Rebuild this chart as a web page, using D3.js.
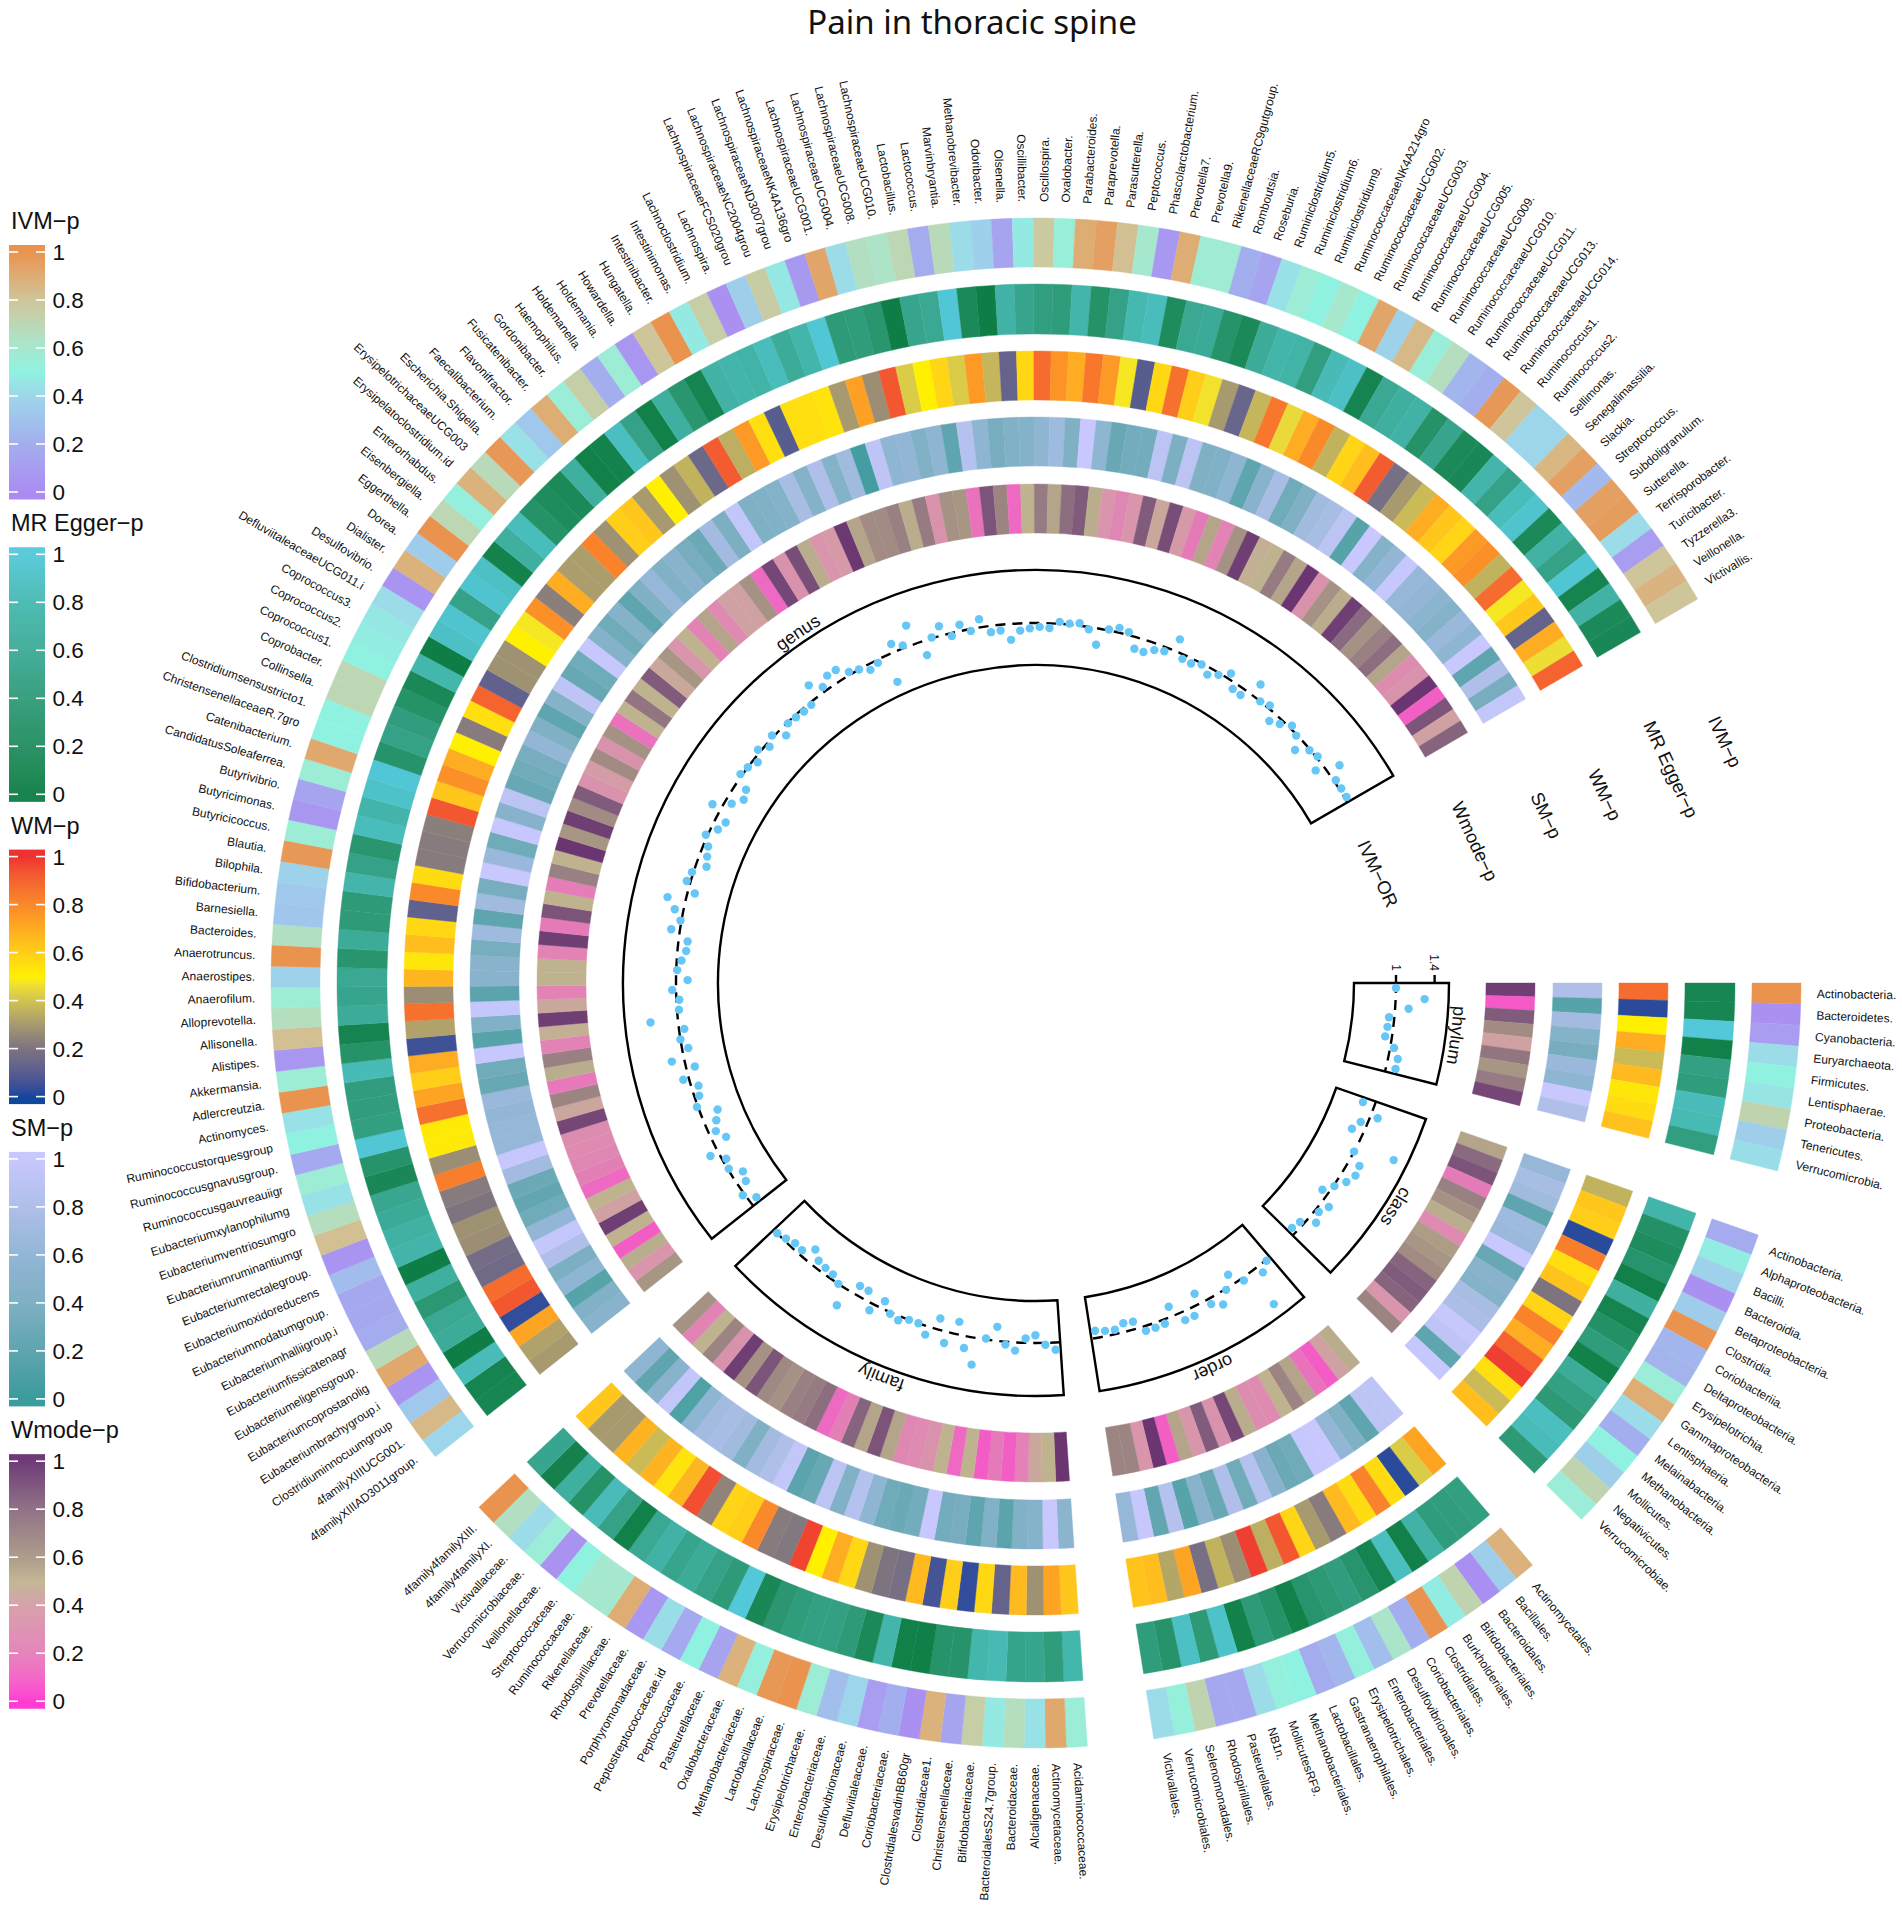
<!DOCTYPE html>
<html>
<head>
<meta charset="utf-8">
<title>Pain in thoracic spine</title>
<script src="https://cdn.jsdelivr.net/npm/d3@7"></script>
<style>
  body { margin: 0; background: #fff; }
  text { font-family: "Liberation Sans", Arial, sans-serif; fill: #111; }
</style>
</head>
<body>
<svg id="chart" width="1902" height="1906"></svg>
<script>
const phylumLabels = ['Actinobacteria.','Bacteroidetes.','Cyanobacteria.','Euryarchaeota.','Firmicutes.','Lentisphaerae.','Proteobacteria.','Tenericutes.','Verrucomicrobia.'];
const classLabels = ['Actinobacteria.','Alphaproteobacteria.','Bacilli.','Bacteroidia.','Betaproteobacteria.','Clostridia.','Coriobacteriia.','Deltaproteobacteria.','Erysipelotrichia.','Gammaproteobacteria.','Lentisphaeria.','Melainabacteria.','Methanobacteria.','Mollicutes.','Negativicutes.','Verrucomicrobiae.'];
const orderLabels = ['Actinomycetales.','Bacillales.','Bacteroidales.','Bifidobacteriales.','Burkholderiales.','Clostridiales.','Coriobacteriales.','Desulfovibrionales.','Enterobacteriales.','Erysipelotrichales.','Gastranaerophilales.','Lactobacillales.','Methanobacteriales.','MollicutesRF9.','NB1n.','Pasteurellales.','Rhodospirillales.','Selenomonadales.','Verrucomicrobiales.','Victivallales.'];
const familyLabels = ['Acidaminococcaceae.','Actinomycetaceae.','Alcaligenaceae.','Bacteroidaceae.','BacteroidalesS24.7group.','Bifidobacteriaceae.','Christensenellaceae.','Clostridiaceae1.','ClostridialesvadinBB60gr','Coriobacteriaceae.','Defluviitaleaceae.','Desulfovibrionaceae.','Enterobacteriaceae.','Erysipelotrichaceae.','Lachnospiraceae.','Lactobacillaceae.','Methanobacteriaceae.','Oxalobacteraceae.','Pasteurellaceae.','Peptococcaceae.','Peptostreptococcaceae.id','Porphyromonadaceae.','Prevotellaceae.','Rhodospirillaceae.','Rikenellaceae.','Ruminococcaceae.','Streptococcaceae.','Veillonellaceae.','Verrucomicrobiaceae.','Victivallaceae.','4family4familyXI.','4family4familyXIII.'];
const genusLabels = ['4familyXIIIAD3011group.','4familyXIIIUCG001.','Clostridiuminnocuumgroup','Eubacteriumbrachygroup.i','Eubacteriumcoprostanolig','Eubacteriumeligensgroup.','Eubacteriumfissicatenagr','Eubacteriumhalliigroup.i','Eubacteriumnodatumgroup.','Eubacteriumoxidoreducens','Eubacteriumrectalegroup.','Eubacteriumruminantiumgr','Eubacteriumventriosumgro','Eubacteriumxylanophilumg','Ruminococcusgauvreauiigr','Ruminococcusgnavusgroup.','Ruminococcustorquesgroup','Actinomyces.','Adlercreutzia.','Akkermansia.','Alistipes.','Allisonella.','Alloprevotella.','Anaerofilum.','Anaerostipes.','Anaerotruncus.','Bacteroides.','Barnesiella.','Bifidobacterium.','Bilophila.','Blautia.','Butyricicoccus.','Butyricimonas.','Butyrivibrio.','CandidatusSoleaferrea.','Catenibacterium.','ChristensenellaceaeR.7gro','Clostridiumsensustricto1.','Collinsella.','Coprobacter.','Coprococcus1.','Coprococcus2.','Coprococcus3.','DefluviitaleaceaeUCG011.i','Desulfovibrio.','Dialister.','Dorea.','Eggerthella.','Eisenbergiella.','Enterorhabdus.','Erysipelatoclostridium.id','ErysipelotrichaceaeUCG003','Escherichia.Shigella.','Faecalibacterium.','Flavonifractor.','Fusicatenibacter.','Gordonibacter.','Haemophilus.','Holdemanella.','Holdemania.','Howardella.','Hungatella.','Intestinibacter.','Intestinimonas.','Lachnoclostridium.','Lachnospira.','LachnospiraceaeFCS020grou','LachnospiraceaeNC2004grou','LachnospiraceaeND3007grou','LachnospiraceaeNK4A136gro','LachnospiraceaeUCG001.','LachnospiraceaeUCG004.','LachnospiraceaeUCG008.','LachnospiraceaeUCG010.','Lactobacillus.','Lactococcus.','Marvinbryantia.','Methanobrevibacter.','Odoribacter.','Olsenella.','Oscillibacter.','Oscillospira.','Oxalobacter.','Parabacteroides.','Paraprevotella.','Parasutterella.','Peptococcus.','Phascolarctobacterium.','Prevotella7.','Prevotella9.','RikenellaceaeRC9gutgroup.','Romboutsia.','Roseburia.','Ruminiclostridium5.','Ruminiclostridium6.','Ruminiclostridium9.','RuminococcaceaeNK4A214gro','RuminococcaceaeUCG002.','RuminococcaceaeUCG003.','RuminococcaceaeUCG004.','RuminococcaceaeUCG005.','RuminococcaceaeUCG009.','RuminococcaceaeUCG010.','RuminococcaceaeUCG011.','RuminococcaceaeUCG013.','RuminococcaceaeUCG014.','Ruminococcus1.','Ruminococcus2.','Sellimonas.','Senegalimassilia.','Slackia.','Streptococcus.','Subdoligranulum.','Sutterella.','Terrisporobacter.','Turicibacter.','Tyzzerella3.','Veillonella.','Victivallis.'];

// odds ratios
const orPhylum = [1,1.3,1.14,.945,.94,.93,1.04,1.1,1.1];
const orClass = [.875,1.077,.93,.875,1.405,1,1.12,1.135,1.09,1.01,.93,1.09,1.04,1.09,.96,.94];
const orOrder = [1.01,1.08,1.41,1.03,.89,1.01,1.125,1.06,.885,1.09,1.09,.895,1.045,1.05,1.05,.92,.91,.955,.945,.925];
const orFamily = [1.075,1.02,.92,.955,1.085,1.03,.855,.99,1.28,1.125,.87,1.12,.885,1.09,1,1,1.045,1.015,.92,1.075,.9,.9,1.195,1,.95,.94,.925,.855,.95,.945,.975,1];
const orGenus = [.92,1.02,.91,.88,.99,.96,1.09,.855,.925,.875,.82,1.01,.95,.925,1.06,.91,1.13,.935,1,.945,1.285,.98,.97,1.04,.88,.99,.95,.91,.905,1.09,1.01,1.09,1.19,.925,1.04,1.015,.89,.92,.95,1.02,.93,.89,1.1,.93,.845,.88,1.02,1,.95,1.03,.96,1.02,.915,.99,.98,.97,.975,1.15,1.05,1.12,1.12,1.03,1,.94,.97,.705,1.09,1.03,1.21,.85,1.01,1.1,.97,1.065,.98,1.085,.935,.94,.835,.925,.945,.96,.95,1.02,1.01,1.025,.975,.83,1.01,1.05,1.03,.88,.875,.93,.955,1.13,.955,.95,.99,.925,.98,1.06,.935,.93,1.14,1,1.03,.905,.955,1.03,.99,.88,.99,1.015,.91,1.14,1.02,1.02,1.02];

// p values per track and taxonomic level
const wmodePhylum = [.95,.08,.85,.65,.42,.75,.6,.72,.92];
const smPhylum = [.8,.15,.72,.45,.35,.65,.55,1,.8];
const wmPhylum = [.88,.02,.5,.7,.38,.66,.53,.56,.64];
const eggerPhylum = [.12,.12,1,.05,.48,.42,.85,.82,.45];
const ivmPhylum = [1,.03,.1,.42,.5,.45,.72,.36,.43];

const wmodeClass = [.55,.8,.88,.19,.7,.62,.52,.28,.58,.6,.65,.82,.85,.82,.35,.68];
const smClass = [.62,.75,.7,.2,.68,.66,1,.25,.5,.45,.75,.78,.98,.92,.2,.98];
const wmClass = [.36,.62,.6,.02,.83,.55,.63,.2,.58,.82,.7,.9,.98,.55,.38,.65];
const eggerClass = [.75,.26,.2,.32,.05,.68,.1,.26,.42,.06,.62,.48,.38,.88,.85,.38];
const ivmClass = [.18,.48,.38,.03,.35,1,.24,.23,.55,.9,.42,.2,.5,.36,.72,.55];

const wmodeOrder = [.52,.42,.09,.16,.55,.68,.5,.28,.3,.52,.92,.33,.85,.35,.55,.1,.98,.35,.68,.68];
const smOrder = [.92,.9,.2,.4,.6,1,.98,.3,.28,.5,.85,.3,.8,.25,.5,.15,.85,.22,.98,.62];
const wmOrder = [.72,.42,.02,.56,.82,.56,.66,.22,.3,.58,.93,.35,.98,.27,.36,.18,.72,.33,.65,.63];
const eggerOrder = [.46,.44,.42,.72,.05,.88,.1,.32,.44,.38,.32,.06,.28,.4,.06,.92,.38,.9,.3,.42];
const ivmOrder = [.88,.36,.02,.72,.48,1,.2,.62,.28,.52,.24,.18,.5,.52,.42,.16,.16,.72,.53,.42];

const wmodeFamily = [.98,.5,.45,.23,.1,.19,.09,.5,.13,.5,.33,.28,.26,.55,.88,.55,.82,.22,.13,.78,.72,.7,.62,.66,.88,.62,.95,.33,.68,.5,.23,.62];
const smFamily = [.52,1,.48,.42,.18,.42,.2,.35,.32,1,.32,.28,.3,.55,.85,.42,.9,.25,.18,.95,.8,.72,.4,.7,.75,.72,.55,.1,.95,.5,.2,.55];
const wmFamily = [.62,.72,.28,.66,.13,.57,.03,.6,.06,.66,.18,.2,.28,.57,.7,.5,.97,.21,.22,.8,.6,.58,.24,.95,.67,.54,.68,.38,.68,.3,.3,.62];
const eggerFamily = [.78,.42,.55,.52,.82,.78,.3,.3,.04,.05,.76,.16,.4,.48,.48,.42,.35,.14,1,.4,.5,.62,.54,.72,.58,.05,.5,.85,.28,.68,.08,.55];
const ivmFamily = [.55,.92,.44,.66,.47,.75,.14,.88,.03,.2,.1,.4,.28,.56,1,.98,.52,.88,.14,.5,.17,.43,.07,.9,.6,.6,.5,.04,.55,.42,.65,1];

const wmodeGenus = [.6,.35,.52,.09,.5,.95,.42,.5,.13,.22,.26,.28,.3,.92,.44,.68,.18,.52,.7,.23,.48,.95,.45,.23,.5,.5,.23,.95,.19,.88,.5,.2,.7,.5,.98,.6,.95,.65,.85,.33,.4,.65,.33,.62,.16,.5,.75,.5,.85,.45,.6,.35,.5,.23,.55,.28,.42,.42,.62,.13,.92,.33,.9,.52,.35,.38,.97,.55,.65,.65,.7,.52,.72,.33,.62,.6,.16,.88,.68,.13,.5,.72,.55,.78,.85,.52,.35,.26,.35,.85,.45,.9,.38,.19,.55,.23,.62,.95,.48,.5,.72,.55,.98,.33,.62,.52,.95,.8,.62,.7,.78,.55,.3,.33,.98,.1,.88,.42,.82];
const smGenus = [.5,.42,.15,.55,.38,.8,.97,.6,.3,.22,.28,.72,.98,.62,.62,.6,.65,.25,.3,.98,.15,.42,.97,.18,.5,.5,.35,.68,.2,.7,.35,1,.65,.3,.98,.48,.9,.25,.3,.35,.6,.4,.2,.45,.92,.25,.3,.98,.45,.3,.45,.2,.4,.62,.42,.5,.35,.28,.72,.38,.95,.4,.42,.45,.75,.45,.8,.45,.7,.05,.92,.55,.6,.42,.55,.2,.85,.55,.35,.42,.45,.55,.68,.4,1,.55,.25,.32,.32,.9,.38,.9,.4,.42,.55,.2,.5,.75,.3,.4,.7,.75,.9,.15,1,.45,.6,.98,.62,.6,.52,.45,.65,.55,1,.2,.8,.35,.95];
const wmGenus = [.3,.32,.72,.03,.93,.88,.16,.17,.27,.28,.2,.22,.83,.27,.52,.52,.87,.72,.6,.7,.05,.32,.87,.27,.67,.53,.65,.57,.12,.8,.56,.22,.22,.23,.93,.62,.78,.7,.5,.22,.55,.9,.12,.28,.28,.5,.48,.78,.23,.7,.31,.31,.82,.28,.6,.62,.3,.5,.28,.36,.15,.92,.35,.75,.55,.1,.55,.55,.54,.3,.73,.27,.93,.42,.5,.58,.42,.75,.37,.13,.57,.88,.77,.7,.85,.75,.48,.1,.57,.87,.6,.47,.3,.14,.37,.85,.45,.7,.8,.36,.58,.65,.92,.18,.3,.38,.7,.62,.58,.75,.78,.36,.88,.48,.62,.13,.7,.46,.9];
const eggerGenus = [.12,.1,.85,.03,.62,.58,.36,.68,.03,.75,.7,.6,.56,.14,.3,.98,.46,.44,.44,.84,.28,.1,.62,.54,.58,.33,.62,.4,.4,.76,.5,.34,.86,.75,.92,.98,.3,.5,.44,.28,.15,.78,.03,.9,.95,.5,.95,.9,.07,.68,.86,.28,.2,.16,.68,.05,.07,.88,.5,.05,.68,.34,.1,.72,.76,.74,.86,.62,.76,.98,.4,.42,.34,.03,.54,.58,.98,.16,.03,.72,.54,.45,.42,.76,.28,.5,.8,.86,.2,.58,.6,.3,.16,.62,.76,.74,.45,.84,.9,.1,.58,.68,.72,.28,.54,.16,.14,.76,.5,.86,.95,.16,.72,.5,.97,.1,.72,.16,.14];
const ivmGenus = [.4,.85,.33,.05,.92,.68,.18,.16,.16,.27,.05,.82,.66,.44,.56,.17,.5,.44,1,.56,.06,.82,.66,.56,.38,1,.65,.32,.33,.38,.98,.56,.06,.14,.56,.92,.5,.5,.7,.7,.5,.48,.46,.42,.05,.88,.35,1,.7,.52,.88,.68,.98,.44,.33,.9,.55,.75,.2,.56,.06,.8,1,.47,.75,.03,.36,.76,.46,.08,.93,.42,.65,.63,.7,.18,.68,.42,.37,.14,.47,.78,.54,.9,.95,.82,.6,.07,.9,.57,.57,.2,.14,.44,.56,.5,.6,.5,.93,.38,.85,.54,.66,.24,.2,.98,.8,.4,.4,.86,.95,.26,.95,.96,.42,.1,.8,.87,.8];

const legendTicks = [0, .2, .4, .6, .8, 1];

const width = 1902, height = 1906;
const cx = 1036, cy = 983;
const cellDeg = 1.581, gapDeg = 5;

const makeRamp = (stops, colors) => d3.scaleLinear().domain(stops).range(colors).interpolate(d3.interpolateLab).clamp(true);

const ivmColor = makeRamp([0,.2,.4,.5,.6,.8,1], ['#ab8bf2','#a3aeee','#9dd6ea','#8ff2e0','#a5e8ce','#cec59a','#e9934f']);
const eggerColor = makeRamp([0,.2,.4,.6,.8,1], ['#0b7c42','#1f8c5e','#2e9a78','#3baa96','#45b8af','#52c8d9']);
const wmColor = makeRamp([0,.2,.3,.4,.5,.75,1], ['#12479f','#7e7480','#a79a6f','#d2c350','#fff000','#fc9a25','#ee3232']);
const smColor = makeRamp([0,.2,.4,.6,.8,1], ['#3a9c9c','#5fa5af','#7fb0c4','#93b6d6','#afbfe9','#c8c8ff']);
const wmodeColor = makeRamp([0,.2,.4,.5,.6,.8,1], ['#ff30d0','#e47db8','#d39ca6','#bfb38f','#a89684','#8a6a80','#662f6f']);

const sectors = [
  { name: 'phylum', labels: phylumLabels, or: orPhylum, wmode: wmodePhylum, sm: smPhylum, wm: wmPhylum, egger: eggerPhylum, ivm: ivmPhylum },
  { name: 'class', labels: classLabels, or: orClass, wmode: wmodeClass, sm: smClass, wm: wmClass, egger: eggerClass, ivm: ivmClass },
  { name: 'order', labels: orderLabels, or: orOrder, wmode: wmodeOrder, sm: smOrder, wm: wmOrder, egger: eggerOrder, ivm: ivmOrder },
  { name: 'family', labels: familyLabels, or: orFamily, wmode: wmodeFamily, sm: smFamily, wm: wmFamily, egger: eggerFamily, ivm: ivmFamily },
  { name: 'genus', labels: genusLabels, or: orGenus, wmode: wmodeGenus, sm: smGenus, wm: wmGenus, egger: eggerGenus, ivm: ivmGenus }
];

const tracks = [
  { key: 'wmode', color: wmodeColor, r0: 450, r1: 499 },
  { key: 'sm', color: smColor, r0: 517, r1: 566 },
  { key: 'wm', color: wmColor, r0: 583, r1: 632 },
  { key: 'egger', color: eggerColor, r0: 649, r1: 699 },
  { key: 'ivm', color: ivmColor, r0: 716, r1: 765 }
];

// angles are degrees clockwise from east, phylum starts at 0
let start = 0;
sectors.forEach(s => {
  s.angle = d3.scaleLinear().domain([0, s.labels.length]).range([start, start + s.labels.length * cellDeg]);
  start += s.labels.length * cellDeg + gapDeg;
});

const toRad = d => (d + 90) * Math.PI / 180;
const orScale = d3.scaleLinear().domain([.565, 1.549]).range([318, 413]);

const svg = d3.select('#chart');
const chart = svg.append('g').attr('transform', `translate(${cx},${cy})`);

svg.append('text')
  .attr('x', 972).attr('y', 34)
  .attr('text-anchor', 'middle')
  .style('font-family', '"Noto Sans", sans-serif')
  .style('font-size', '33px')
  .text('Pain in thoracic spine');

const arc = d3.arc();

// heatmap rings
sectors.forEach(s => {
  tracks.forEach(t => {
    chart.append('g').selectAll('path')
      .data(s[t.key])
      .join('path')
      .attr('d', (d, i) => arc({
        innerRadius: t.r0, outerRadius: t.r1,
        startAngle: toRad(s.angle(i)), endAngle: toRad(s.angle(i + 1))
      }))
      .attr('fill', d => t.color(d))
      .attr('stroke', d => t.color(d))
      .attr('stroke-width', 0.4);
  });

  // taxon labels
  chart.append('g').selectAll('text')
    .data(s.labels)
    .join('text')
    .attr('transform', (d, i) => {
      const a = s.angle(i + 0.5);
      const flip = a > 90 && a < 270;
      return `rotate(${a}) translate(781,0)` + (flip ? ' rotate(180)' : '');
    })
    .attr('text-anchor', (d, i) => {
      const a = s.angle(i + 0.5);
      return a > 90 && a < 270 ? 'end' : 'start';
    })
    .attr('dy', '0.35em')
    .style('font-size', '12px')
    .text(d => d);

  // OR track
  const rOne = orScale(1);
  const [a0, a1] = s.angle.range();

  const line = d3.path();
  line.arc(0, 0, rOne, a0 * Math.PI / 180, a1 * Math.PI / 180);
  chart.append('path')
    .attr('d', line.toString())
    .attr('fill', 'none')
    .attr('stroke', '#000')
    .attr('stroke-width', 2.4)
    .attr('stroke-dasharray', '10 7');

  chart.append('path')
    .attr('d', arc({ innerRadius: 318, outerRadius: 413, startAngle: toRad(a0), endAngle: toRad(a1) }))
    .attr('fill', 'none')
    .attr('stroke', '#000')
    .attr('stroke-width', 2.4);

  chart.append('g').selectAll('circle')
    .data(s.or)
    .join('circle')
    .attr('cx', (d, i) => orScale(d) * Math.cos(s.angle(i + 0.5) * Math.PI / 180))
    .attr('cy', (d, i) => orScale(d) * Math.sin(s.angle(i + 0.5) * Math.PI / 180))
    .attr('r', 4.2)
    .attr('fill', '#66c7f7');

  // sector name bent along the box
  const id = `name-${s.name}`;
  const namePath = d3.path();
  namePath.arc(0, 0, 418, a0 * Math.PI / 180, a1 * Math.PI / 180);
  chart.append('path').attr('id', id).attr('d', namePath.toString()).attr('fill', 'none');
  chart.append('text')
    .style('font-size', '18px')
    .append('textPath')
    .attr('href', `#${id}`)
    .attr('startOffset', '50%')
    .attr('text-anchor', 'middle')
    .text(s.name);
});

// axis of the OR track, only on the phylum sector
const axisGroup = chart.append('g');
[1, 1.4].forEach(v => {
  axisGroup.append('line')
    .attr('x1', orScale(v)).attr('x2', orScale(v))
    .attr('y1', 0).attr('y2', -8)
    .attr('stroke', '#000').attr('stroke-width', 2.4);
  axisGroup.append('text')
    .attr('transform', `translate(${orScale(v)},-12) rotate(90)`)
    .attr('text-anchor', 'end')
    .attr('dy', '0.35em')
    .style('font-size', '12px')
    .text(v);
});

// track names in the big gap
const trackNames = [
  { name: 'IVM\u2212OR', r: 359, deg: -17.7 },
  { name: 'Wmode\u2212p', r: 461, deg: -17.9 },
  { name: 'SM\u2212p', r: 537, deg: -18.2 },
  { name: 'WM\u2212p', r: 599, deg: -18.3 },
  { name: 'MR Egger\u2212p', r: 670, deg: -18.6 },
  { name: 'IVM\u2212p', r: 730, deg: -19.3 }
];
chart.append('g').selectAll('text')
  .data(trackNames)
  .join('text')
  .attr('transform', d => {
    const a = d.deg * Math.PI / 180;
    return `translate(${d.r * Math.cos(a)},${d.r * Math.sin(a)}) rotate(65)`;
  })
  .attr('text-anchor', 'middle')
  .attr('dy', '0.35em')
  .style('font-size', '18.5px')
  .text(d => d.name);

// colour legends
const legends = [
  { title: 'IVM\u2212p', color: ivmColor },
  { title: 'MR Egger\u2212p', color: eggerColor },
  { title: 'WM\u2212p', color: wmColor },
  { title: 'SM\u2212p', color: smColor },
  { title: 'Wmode\u2212p', color: wmodeColor }
];
legends.forEach((l, k) => {
  const top = 245 + k * 302.3;
  const g = svg.append('g').attr('transform', `translate(9,${top})`);
  const y = d3.scaleLinear().domain([0, 1]).range([247, 7]);
  g.append('text').attr('x', 2).attr('y', -16).style('font-size', '23.5px').text(l.title);
  g.selectAll('rect.slice')
    .data(d3.range(254))
    .join('rect')
    .attr('class', 'slice')
    .attr('x', 0).attr('y', d => d)
    .attr('width', 36).attr('height', 1.5)
    .attr('fill', d => l.color(y.invert(d + 0.5)));
  const ticks = g.selectAll('g.tick').data(legendTicks).join('g').attr('class', 'tick');
  ticks.append('rect').attr('x', 0).attr('y', d => y(d) - 0.8).attr('width', 9).attr('height', 1.6).attr('fill', '#fff');
  ticks.append('rect').attr('x', 27).attr('y', d => y(d) - 0.8).attr('width', 9).attr('height', 1.6).attr('fill', '#fff');
  ticks.append('text').attr('x', 43.5).attr('y', d => y(d)).attr('dy', '0.36em').style('font-size', '22.5px').text(d => d);
});
</script>
</body>
</html>
